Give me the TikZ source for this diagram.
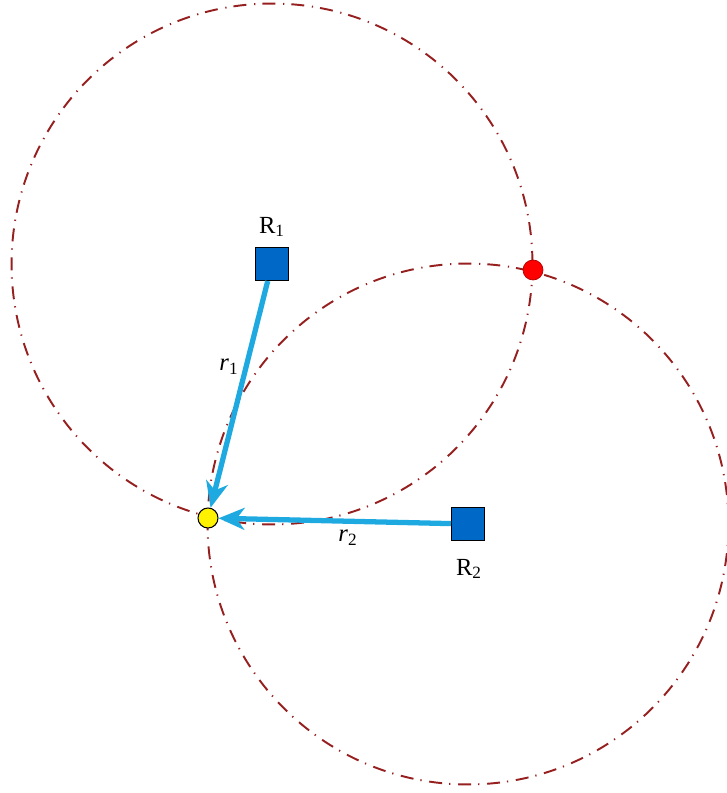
\documentclass[tikz,border=0pt]{standalone}
\usepackage{fontspec}
\setmainfont{Liberation Serif}
\usepackage{tikz}
\usetikzlibrary{arrows.meta, positioning}
\definecolor{ringred}{RGB}{150,32,32}
\definecolor{rayblue}{RGB}{30,170,225}
\definecolor{boxblue}{RGB}{0,105,200}

\begin{document}
\begin{tikzpicture}[
  x=0.02cm, y=-0.02cm,
  ring/.style={ringred, line width=1.1pt,
    dash pattern=on 7.4pt off 4pt on 0.7pt off 4.4pt},
  station/.style={draw=black, fill=boxblue, line width=0.6pt,
    minimum size=0.66cm, inner sep=0pt},
  target/.style={circle, draw=black, fill=yellow, line width=0.6pt,
    minimum size=0.4cm, inner sep=0pt},
  ghost/.style={circle, draw=red!70!black, fill=red, line width=0.4pt,
    minimum size=0.4cm, inner sep=0pt},
  arr/.style={rayblue, line width=3pt,
    -{Stealth[length=5.2mm, width=4.4mm, inset=1.6mm]}},
  lbl/.style={font=\fontsize{14}{16}\selectfont}
]
\useasboundingbox (0,0) rectangle (726,793);

% range circles
\draw[ring] (272,264) circle[radius=5.21cm];
\draw[ring] (468,524) circle[radius=5.21cm];

\node[station] (R1) at (272,264) {};
\node[station] (R2) at (468,524) {};
\node[target] (P) at (208,518) {};
\node[ghost] (Q) at (533,270) {};

\node[lbl] (R1lab) at (272,227) {R\textsubscript{1}};
\node[lbl] (R2lab) at (469,569) {R\textsubscript{2}};

\draw[arr] (R1) -- (P);
\draw[arr] (R2) -- (P);

\node[lbl] (r1lab) at (229,367) {\textit{r}\textsubscript{1}};
\node[lbl] (r2lab) at (348,538) {\textit{r}\textsubscript{2}};
\end{tikzpicture}
\end{document}
